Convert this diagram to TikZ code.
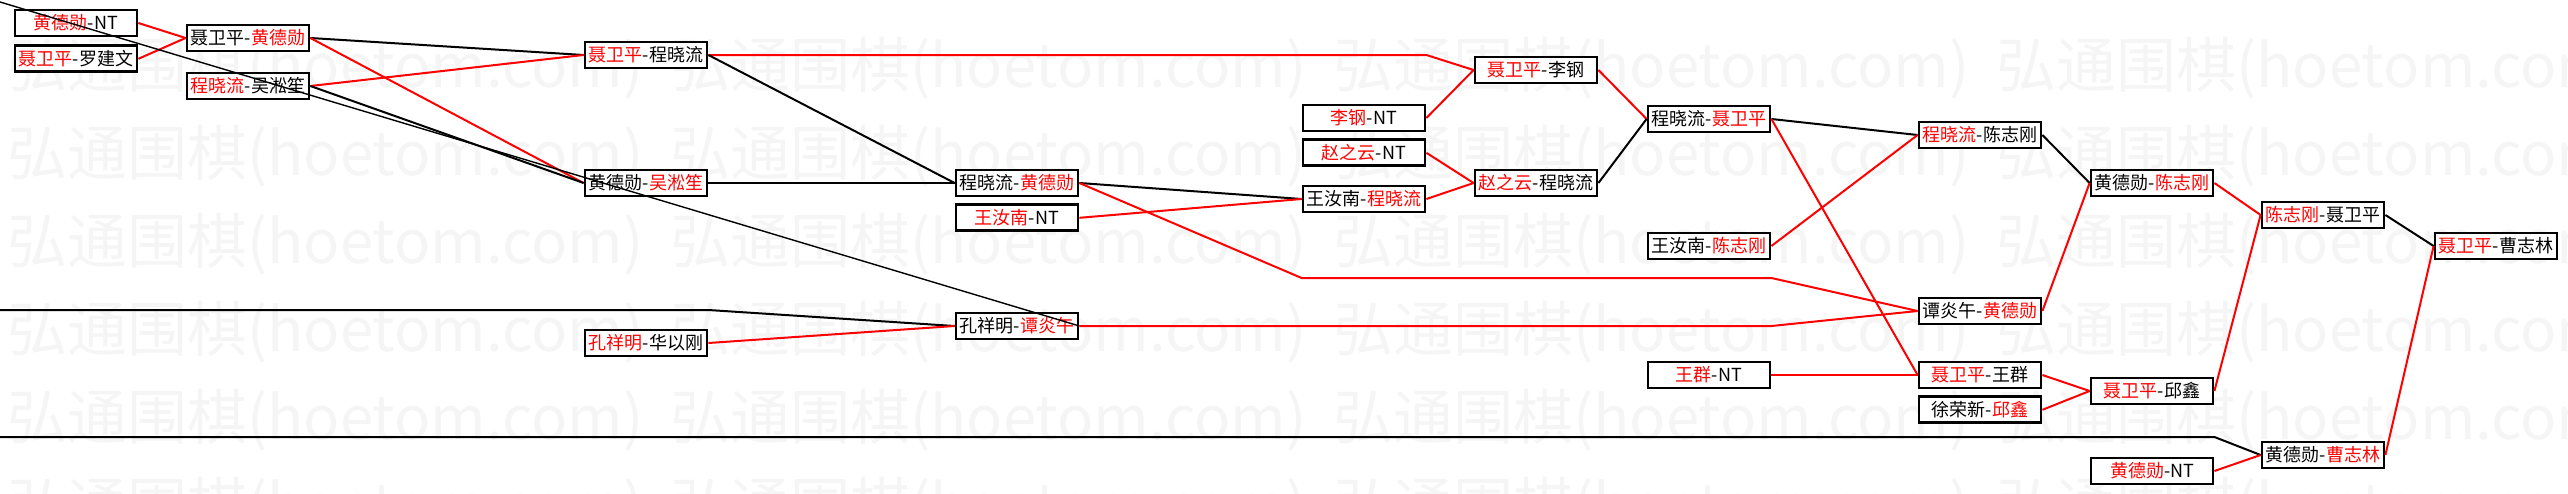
\documentclass[tikz,border=0pt]{standalone}
\usepackage{fontspec}
\newfontfamily\cjk{Noto Sans CJK SC}
\usetikzlibrary{positioning}
\newcommand{\winner}[1]{\textcolor{red}{#1}}

\begin{document}
\begin{tikzpicture}[
      x=1pt, y=-1pt,
      node distance=6pt,
      pairbox/.style={rectangle, draw, line width=2.8pt, fill=white,
        minimum width=122pt, minimum height=26pt, inner sep=0pt,
        font=\cjk\fontsize{18}{18}\selectfont},
      win/.style={red, line width=2pt},
      lose/.style={black, line width=2pt},
      stamp/.style={font=\cjk\fontsize{60}{60}\selectfont, text=black!4,
        anchor=west, inner sep=0pt},
  ]
      \useasboundingbox (0,0) rectangle (2568,493);

      % --- MARCA D'AGUA ---
      \foreach \wy in {68,156,244,332,420,508}
        \foreach \wx in {7,670,1333,1996}
          \node[stamp] (wm-\wx-\wy) at (\wx,\wy) {弘通围棋(hoetom.com)};

      % --- PRIMEIRAS RODADAS ---
      \node[pairbox] (hdnt) at (76,23) {\winner{黄德勋}-NT};
      \node[pairbox] (nljw) [below=7pt of hdnt] {\winner{聂卫平}-罗建文};
      \node[pairbox] (nhd) at (248,38) {聂卫平-\winner{黄德勋}};
      \node[pairbox] (cws) at (248,86) {\winner{程晓流}-吴淞笙};

      \node[pairbox] (ncx) at (646,55) {\winner{聂卫平}-程晓流};
      \node[pairbox] (hws) at (646,183) {黄德勋-\winner{吴淞笙}};
      \node[pairbox] (khg) at (646,343) {\winner{孔祥明}-华以刚};

      \node[pairbox] (chd) at (1017,183) {程晓流-\winner{黄德勋}};
      \node[pairbox] (wnnt) [below=of chd] {\winner{王汝南}-NT};
      \node[pairbox] (kty) at (1017,326) {孔祥明-\winner{谭炎午}};

      % --- RODADAS CENTRAIS ---
      \node[pairbox] (lgnt) at (1364,118) {\winner{李钢}-NT};
      \node[pairbox] (zynt) [below=of lgnt] {\winner{赵之云}-NT};
      \node[pairbox] (wcx) at (1364,199) {王汝南-\winner{程晓流}};

      \node[pairbox] (nlg) at (1536,70) {\winner{聂卫平}-李钢};
      \node[pairbox] (zcx) at (1536,183) {\winner{赵之云}-程晓流};

      \node[pairbox] (cnw) at (1709,119) {程晓流-\winner{聂卫平}};
      \node[pairbox] (wzg) at (1709,246) {王汝南-\winner{陈志刚}};
      \node[pairbox] (wqnt) at (1709,375) {\winner{王群}-NT};

      % --- RODADAS FINAIS ---
      \node[pairbox] (czg) at (1980,135) {\winner{程晓流}-陈志刚};
      \node[pairbox] (thd) at (1980,311) {谭炎午-\winner{黄德勋}};
      \node[pairbox] (nwq) at (1980,375) {\winner{聂卫平}-王群};
      \node[pairbox] (xqx) [below=of nwq] {徐荣新-\winner{邱鑫}};

      \node[pairbox] (hzg) at (2152,183) {黄德勋-\winner{陈志刚}};
      \node[pairbox] (nqx) at (2152,391) {\winner{聂卫平}-邱鑫};
      \node[pairbox] (hdntb) at (2152,471) {\winner{黄德勋}-NT};

      \node[pairbox] (zgn) at (2323,215) {\winner{陈志刚}-聂卫平};
      \node[pairbox] (hzl) at (2323,455) {黄德勋-\winner{曹志林}};

      \node[pairbox] (nzl) at (2496,246) {\winner{聂卫平}-曹志林};

      % Pontas soltas que entram pela borda esquerda
      \coordinate (lfa) at (0,2);
      \coordinate (lfb) at (0,310);
      \coordinate (lfc) at (0,437);
      \coordinate (ylow) at (0,278);

      % --- CONEXOES ---
      \draw[win] (hdnt.east) -- (nhd.west);
      \draw[win] (nljw.east) -- (nhd.west);
      \draw[lose] (nhd.east) -- (ncx.west);
      \draw[win] (cws.east) -- (ncx.west);
      \draw[win] (nhd.east) -- (hws.west);
      \draw[lose] (cws.east) -- (hws.west);

      \draw[win] (ncx.east) -- (ncx.east -| lgnt.east) -- (nlg.west);
      \draw[lose] (ncx.east) -- (chd.west);
      \draw[lose] (hws.east) -- (chd.west);
      \draw[lose, line width=1.4pt] (lfa) -- (kty.east);
      \draw[lose] (lfb) -- (khg.east |- lfb) -- (kty.west);
      \draw[win] (khg.east) -- (kty.west);

      \draw[lose] (chd.east) -- (wcx.west);
      \draw[win] (wnnt.east) -- (wcx.west);
      \draw[win] (chd.east) -- (wcx.west |- ylow) -- (wzg.east |- ylow) -- (thd.west);
      \draw[win] (kty.east) -- (kty.east -| wzg.east) -- (thd.west);

      \draw[win] (lgnt.east) -- (nlg.west);
      \draw[win] (zynt.east) -- (zcx.west);
      \draw[win] (wcx.east) -- (zcx.west);
      \draw[win] (nlg.east) -- (cnw.west);
      \draw[lose] (zcx.east) -- (cnw.west);

      \draw[lose] (cnw.east) -- (czg.west);
      \draw[win] (cnw.east) -- (nwq.west);
      \draw[win] (wzg.east) -- (czg.west);
      \draw[win] (wqnt.east) -- (nwq.west);

      \draw[lose] (czg.east) -- (hzg.west);
      \draw[win] (thd.east) -- (hzg.west);
      \draw[win] (nwq.east) -- (nqx.west);
      \draw[win] (xqx.east) -- (nqx.west);

      \draw[win] (hzg.east) -- (zgn.west);
      \draw[win] (nqx.east) -- (zgn.west);
      \draw[lose] (lfc) -- (hdntb.east |- lfc) -- (hzl.west);
      \draw[win] (hdntb.east) -- (hzl.west);

      \draw[lose] (zgn.east) -- (nzl.west);
      \draw[win] (hzl.east) -- (nzl.west);

  \end{tikzpicture}
\end{document}
